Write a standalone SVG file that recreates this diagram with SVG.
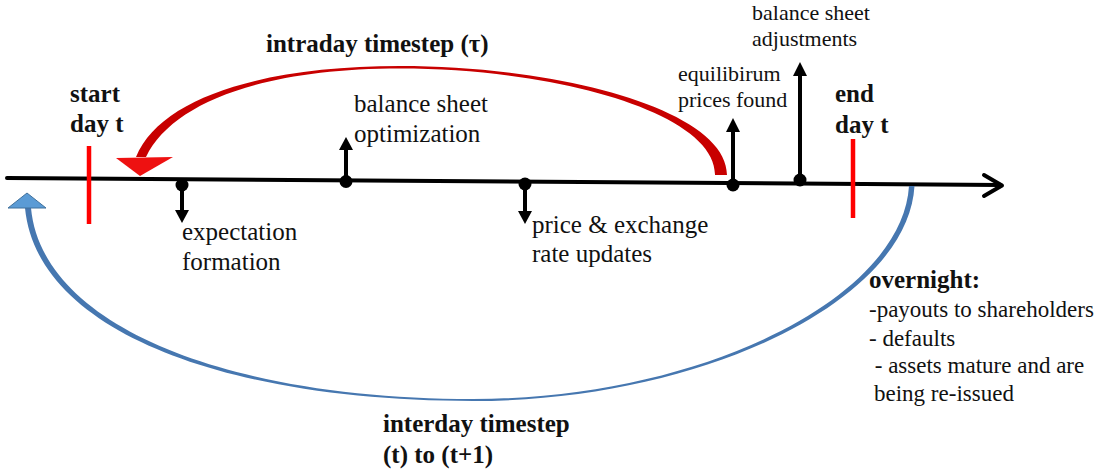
<svg xmlns="http://www.w3.org/2000/svg" width="1104" height="472" viewBox="0 0 1104 472">
<defs>
<style>
.b{font-weight:bold;font-size:25px}
.r{font-size:25px}
.s{font-size:22px}
.o{font-size:23px}
.axis{stroke:#000;stroke-width:4;fill:none;stroke-linecap:round;stroke-linejoin:round}
.stem{stroke:#000;stroke-width:4}
.head{fill:#000}
.dot{fill:#000}
.tick{stroke:#ff0000;stroke-width:4.5}
</style>
</defs>
<rect width="1104" height="472" fill="#fff"/>

<g id="connectors">
  <path class="axis" d="M7,178 L1000,185"/>
  <path class="axis" d="M984,175 L1002,185.5 L984,196"/>
  <path d="M727,175 C727,110 560,66 400,66 C262,66 160,98 136,157 L146,157 C172,103 262,68.5 400,68.5 C557,68.5 716,113 715,175 Z" fill="#c80000"/>
  <polygon points="116,158 173,157 140,176" fill="#ee1111"/>
  <path d="M25,208 C37,333 230,401 473,401 C702,401 908,301 914.5,186 L909,186 C902,299 699,399 473,399 C230,399 42,327 31,208 Z" fill="#4677b0"/>
  <polygon points="8,208 46,208 27,193" fill="#5b9bd5" stroke="#41719c" stroke-width="1"/>
</g>

<g font-family="Liberation Serif, 'Times New Roman', 'DejaVu Serif', serif" fill="#111">
<g id="start-day">
  <line class="tick" x1="89" y1="146" x2="89" y2="224"/>
  <text class="b" x="70" y="102">start</text>
  <text class="b" x="70" y="132">day t</text>
</g>

<g id="end-day">
  <line class="tick" x1="853" y1="139" x2="853" y2="218"/>
  <text class="b" x="835" y="102">end</text>
  <text class="b" x="835" y="133">day t</text>
</g>

<g id="intraday-label">
  <text class="b" x="266" y="52">intraday timestep (τ)</text>
</g>

<g id="expectation-formation">
  <circle class="dot" cx="182" cy="185" r="6.5"/>
  <line class="stem" x1="182" y1="185" x2="182" y2="212"/>
  <polygon class="head" points="175,210 189,210 182,223"/>
  <text class="r" x="182" y="240">expectation</text>
  <text class="r" x="182" y="270">formation</text>
</g>

<g id="balance-sheet-optimization">
  <circle class="dot" cx="346" cy="181.5" r="6.5"/>
  <line class="stem" x1="346" y1="181" x2="346" y2="148"/>
  <polygon class="head" points="339,150 353,150 346,137"/>
  <text class="r" x="354" y="112">balance sheet</text>
  <text class="r" x="354" y="142">optimization</text>
</g>

<g id="price-exchange-updates">
  <circle class="dot" cx="525" cy="184" r="6.5"/>
  <line class="stem" x1="525" y1="184" x2="525" y2="213"/>
  <polygon class="head" points="518,211 532,211 525,224"/>
  <text class="r" x="532" y="233">price &amp; exchange</text>
  <text class="r" x="532" y="262">rate updates</text>
</g>

<g id="equilibrium-prices">
  <circle class="dot" cx="733" cy="185" r="6.5"/>
  <line class="stem" x1="733" y1="185" x2="733" y2="130"/>
  <polygon class="head" points="726,132 740,132 733,118"/>
  <text class="s" x="678" y="81">equilibirum</text>
  <text class="s" x="678" y="107">prices found</text>
</g>

<g id="balance-sheet-adjustments">
  <circle class="dot" cx="800" cy="180" r="6.5"/>
  <line class="stem" x1="800" y1="180" x2="800" y2="74"/>
  <polygon class="head" points="793,76 807,76 800,62"/>
  <text class="s" x="752" y="20">balance sheet</text>
  <text class="s" x="752" y="46">adjustments</text>
</g>

<g id="overnight">
  <text class="b" x="869" y="288">overnight:</text>
  <text class="o" x="869" y="317">-payouts to shareholders</text>
  <text class="o" x="869" y="346">- defaults</text>
  <text class="o" x="869" y="373" xml:space="preserve"> - assets mature and are</text>
  <text class="o" x="874" y="401">being re-issued</text>
</g>

<g id="interday-label">
  <text class="b" x="383" y="432">interday timestep</text>
  <text class="b" x="383" y="463">(t) to (t+1)</text>
</g>
</g>
</svg>
